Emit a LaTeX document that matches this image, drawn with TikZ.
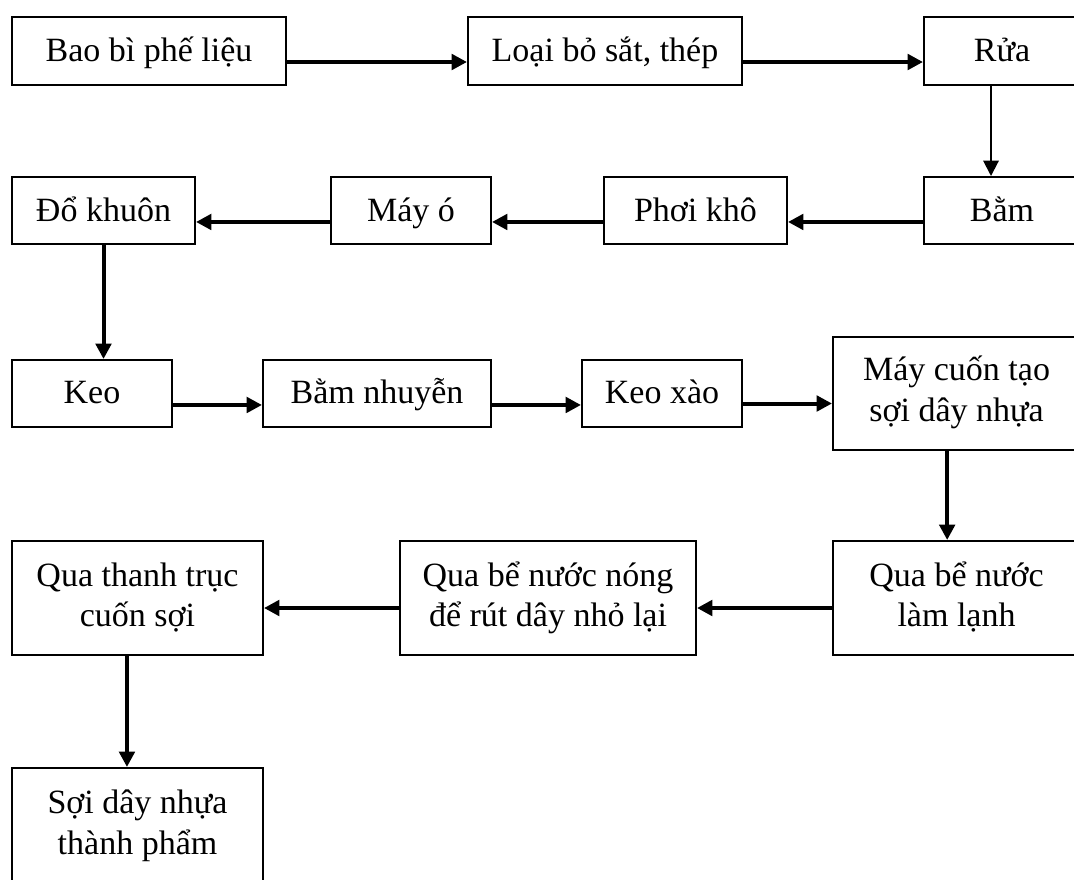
\documentclass[tikz,border=0pt]{standalone}
\usepackage{fontspec}
\setmainfont{Liberation Serif}
\usetikzlibrary{arrows.meta,fit}
\begin{document}
\begin{tikzpicture}[x=0.75pt,y=-0.75pt,
  box/.style={draw, line width=1.5pt, inner sep=0pt},
  txt/.style={inner sep=0pt, align=center, anchor=base,
    font=\fontsize{25.5}{30.5}\selectfont},
  flow/.style={-{Triangle[length=11.5pt,width=11.5pt]}, line width=3pt},
  thinflow/.style={-{Triangle[length=11.5pt,width=11.5pt]}, line width=1.5pt}]
\clip (0,0) rectangle (1074,879);
% boxes
\node[box, fit={(12,17) (286,85)}] (A) {};
\node[box, fit={(468,17) (742,85)}] (B) {};
\node[box, fit={(924,17) (1080,85)}] (C) {};
\node[box, fit={(924,177) (1080,244)}] (D) {};
\node[box, fit={(604,177) (787,244)}] (E) {};
\node[box, fit={(331,177) (491,244)}] (F) {};
\node[box, fit={(12,177) (195,244)}] (G) {};
\node[box, fit={(12,360) (172,427)}] (H) {};
\node[box, fit={(263,360) (491,427)}] (I) {};
\node[box, fit={(582,360) (742,427)}] (J) {};
\node[box, fit={(833,337) (1080,450)}] (K) {};
\node[box, fit={(833,541) (1080,655)}] (L) {};
\node[box, fit={(400,541) (696,655)}] (M) {};
\node[box, fit={(12,541) (263,655)}] (N) {};
\node[box, fit={(12,768) (263,883)}] (O) {};
% one-line texts (anchored on their baseline)
\node[txt] (tA) at ([yshift=-8pt]A.center) {Bao bì phế liệu};
\node[txt] (tB) at ([yshift=-8pt]B.center) {Loại bỏ sắt, thép};
\node[txt] (tC) at ([yshift=-8pt]C.center) {Rửa};
\node[txt] (tD) at ([yshift=-8pt]D.center) {Bằm};
\node[txt] (tE) at ([yshift=-8pt]E.center) {Phơi khô};
\node[txt] (tF) at ([yshift=-8pt]F.center) {Máy ó};
\node[txt] (tG) at ([yshift=-8pt]G.center) {Đổ khuôn};
\node[txt] (tH) at ([yshift=-7.5pt]H.center) {Keo};
\node[txt] (tI) at ([yshift=-7.5pt]I.center) {Bằm nhuyễn};
\node[txt] (tJ) at ([yshift=-7.5pt]J.center) {Keo xào};
% two-line texts (anchored on the baseline of the last line)
\node[txt] (tK) at ([yshift=-21pt]K.center) {Máy cuốn tạo\\sợi dây nhựa};
\node[txt] (tL) at ([yshift=-21.5pt]L.center) {Qua bể nước\\làm lạnh};
\node[txt] (tM) at ([yshift=-21.5pt]M.center) {Qua bể nước nóng\\để rút dây nhỏ lại};
\node[txt] (tN) at ([yshift=-21.5pt]N.center) {Qua thanh trục\\cuốn sợi};
\node[txt] (tO) at ([yshift=-21.5pt]O.center) {Sợi dây nhựa\\thành phẩm};
% connectors
\draw[flow] ([yshift=-8.25pt]A.east) -- ([yshift=-8.25pt]B.west);
\draw[flow] ([yshift=-8.25pt]B.east) -- ([yshift=-8.25pt]C.west);
\draw[thinflow] ([xshift=51pt]C.south west) -- ([xshift=51pt]D.north west);
\draw[flow] ([yshift=-8.6pt]D.west) -- ([yshift=-8.6pt]E.east);
\draw[flow] ([yshift=-8.6pt]E.west) -- ([yshift=-8.6pt]F.east);
\draw[flow] ([yshift=-8.6pt]F.west) -- ([yshift=-8.6pt]G.east);
\draw[flow] (G.south) -- (G.south |- H.north);
\draw[flow] ([yshift=-8.6pt]H.east) -- ([yshift=-8.6pt]I.west);
\draw[flow] ([yshift=-8.6pt]I.east) -- ([yshift=-8.6pt]J.west);
\draw[flow] ([yshift=-7.5pt]J.east) -- ([yshift=-7.5pt]J.east -| K.west);
\draw[flow] ([xshift=-7pt]K.south) -- ([xshift=-7pt]K.south |- L.north);
\draw[flow] ([yshift=-7.5pt]L.west) -- ([yshift=-7.5pt]M.east);
\draw[flow] ([yshift=-7.5pt]M.west) -- ([yshift=-7.5pt]N.east);
\draw[flow] ([xshift=-7.9pt]N.south) -- ([xshift=-7.9pt]O.north);
\end{tikzpicture}
\end{document}
